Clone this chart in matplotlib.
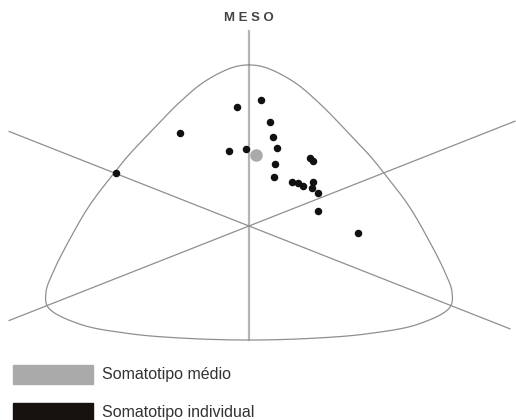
import numpy as np
import matplotlib
matplotlib.use('Agg')
import matplotlib.pyplot as plt
from matplotlib.patches import Rectangle

# somatochart coordinates: X = ecto - endo, Y = 2*meso - (endo + ecto)
soma_x = [0.35, -0.37, -2.06, 0.63, 0.71, 0.84, -0.60, -0.10, 0.78, 0.76,
          1.82, 1.92, 1.27, 1.47, 1.60, 1.92, 1.89, 2.07, 2.07, 3.26, -3.97]
soma_y = [9.55, 9.04, 7.02, 7.86, 6.72, 5.89, 5.68, 5.83, 4.70, 3.69,
          5.13, 4.92, 3.36, 3.28, 3.05, 3.31, 2.86, 2.48, 1.16, -0.55, 3.99]
mean_x = [0.20]
mean_y = [5.38]

# chart outline template (right half, mirrored for the left)
outline_half_x = [0.0, 0.5, 1.35, 2.1, 2.95, 3.65, 4.0, 4.75, 5.34, 5.84, 6.06, 6.0,
                  5.07, 3.58, 2.09]
outline_half_y = [12.2, 12.0, 10.9, 9.3, 7.1, 5.2, 4.1, 1.6, -0.95, -3.45, -5.0, -6.15,
                  -7.42, -8.15, -8.48]
outline_bottom_y = -8.64

legend_labels = ['Somatotipo médio', 'Somatotipo individual']

SX, SY = 33.5, 13.2  # pixels per unit


def closed_centripetal_cr(px, py, n=30, alpha=0.5):
    P = np.column_stack([px, py])
    m = len(P)
    out = []
    for i in range(m):
        p0, p1, p2, p3 = P[i - 1], P[i], P[(i + 1) % m], P[(i + 2) % m]
        t0 = 0.0
        t1 = t0 + np.linalg.norm(p1 - p0) ** alpha
        t2 = t1 + np.linalg.norm(p2 - p1) ** alpha
        t3 = t2 + np.linalg.norm(p3 - p2) ** alpha
        t = np.linspace(t1, t2, n, endpoint=False)[:, None]
        a1 = (t1 - t) / (t1 - t0) * p0 + (t - t0) / (t1 - t0) * p1
        a2 = (t2 - t) / (t2 - t1) * p1 + (t - t1) / (t2 - t1) * p2
        a3 = (t3 - t) / (t3 - t2) * p2 + (t - t2) / (t3 - t2) * p3
        b1 = (t2 - t) / (t2 - t0) * a1 + (t - t0) / (t2 - t0) * a2
        b2 = (t3 - t) / (t3 - t1) * a2 + (t - t1) / (t3 - t1) * a3
        out.append((t2 - t) / (t2 - t1) * b1 + (t - t1) / (t2 - t1) * b2)
    out = np.vstack(out + [out[0][:1]])
    return out[:, 0], out[:, 1]


ox = outline_half_x + [0.0] + [-v for v in outline_half_x[:0:-1]]
oy = outline_half_y + [outline_bottom_y] + outline_half_y[:0:-1]
cx, cy = closed_centripetal_cr(np.array(ox) * SX, np.array(oy) * SY)
cx, cy = cx / SX, cy / SY

fig = plt.figure(figsize=(5.16, 4.20), dpi=100)
ax = fig.add_axes([0, 0, 1, 1])
ax.set_xlim(-249 / SX, (516 - 249) / SX)
ax.set_ylim((226 - 420) / SY, 226 / SY)
ax.axis('off')

line_col = '#8f8f8f'
ax.plot([0, 0], [outline_bottom_y, 14.8], color='#b5b5b5', lw=1.6, zorder=1)
ax.plot([-7.16, 7.79], [7.16, -7.79], color=line_col, lw=0.9, zorder=1)
ax.plot([-7.16, 7.94], [-7.16, 7.94], color=line_col, lw=0.9, zorder=1)
ax.plot(cx, cy, color=line_col, lw=0.9, zorder=1)

ax.plot(soma_x, soma_y, 'o', color='#111111', markersize=4.4, zorder=3)
ax.plot(mean_x, mean_y, 'o', color='#aaaaaa', markersize=8, zorder=4)

ax.text(0, 15.3, 'M E S O', ha='center', va='bottom', fontsize=9.5,
        fontweight='bold', color='#444444', family='Liberation Sans')

fig.patches.append(Rectangle((13 / 516, 1 - 384 / 420), 80 / 516, 19 / 420,
                             transform=fig.transFigure, color='#aaaaaa'))
fig.patches.append(Rectangle((13 / 516, 0), 80 / 516, 17 / 420,
                             transform=fig.transFigure, color='#17120e'))
fig.text(102 / 516, 1 - 374 / 420, legend_labels[0], va='center', fontsize=11.5,
         color='#333333', family='Liberation Sans')
fig.text(102 / 516, 1 - 412 / 420, legend_labels[1], va='center', fontsize=11.5,
         color='#333333', family='Liberation Sans')

fig.savefig('out.png', dpi=100, facecolor='white')
